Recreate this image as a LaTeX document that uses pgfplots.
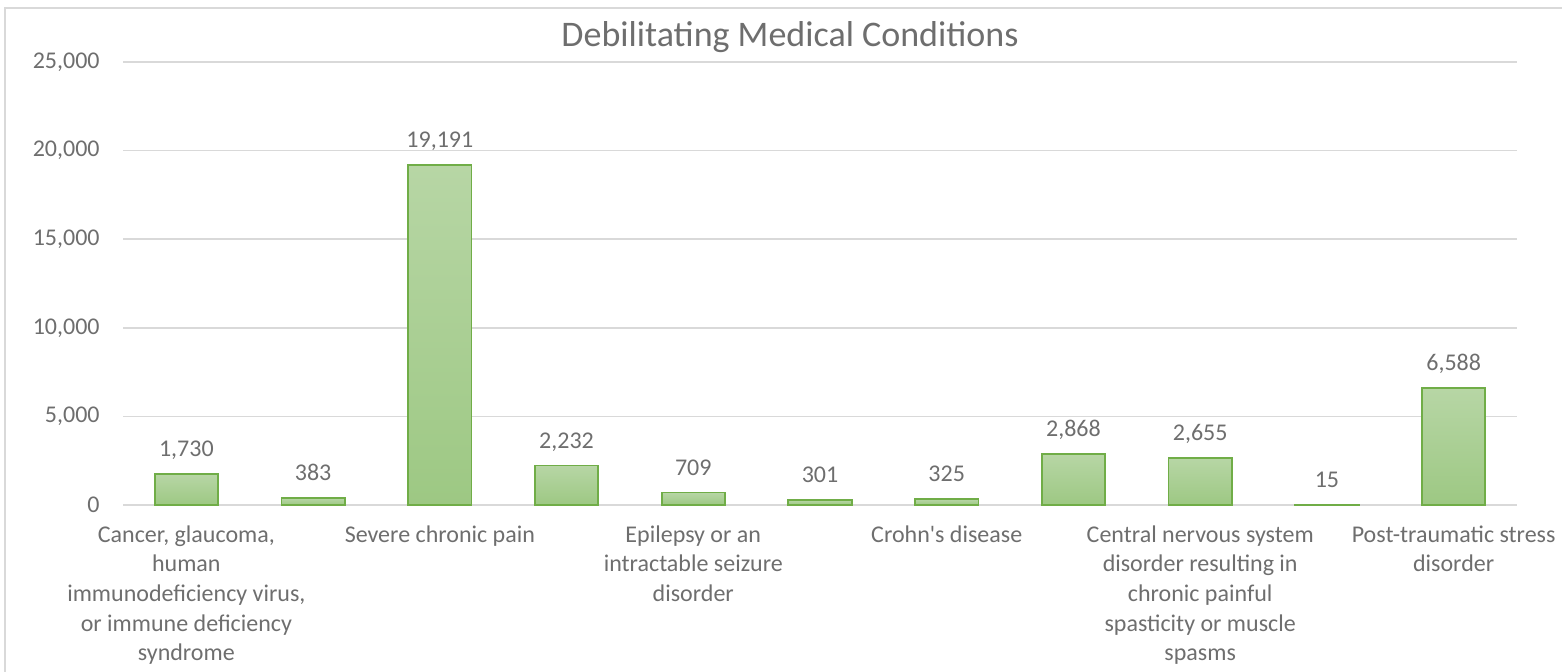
\documentclass[border=0pt]{standalone}
\usepackage{fontspec}
\setmainfont{Carlito}
\usepackage{pgfplots}
\pgfplotsset{compat=1.18}
\definecolor{txt}{HTML}{6E6E6E}
\definecolor{gridc}{HTML}{D9D9D9}
\definecolor{barline}{HTML}{70AD47}
\definecolor{bartop}{HTML}{B7D6A5}
\definecolor{barbot}{HTML}{9DC883}
\pgfplotsset{onebar/.style={draw=barline, line width=0.9pt, top color=bartop, bottom color=barbot, bar shift=0pt}}
\begin{document}
\begin{tikzpicture}
\path[use as bounding box] (0,0) rectangle (781pt,-335.5pt);
\draw[gridc, line width=0.9pt] (2.5pt,-340pt) -- (2.5pt,-4pt) -- (790pt,-4pt);
\node[txt, font=\fontsize{18}{21}\selectfont] at (395pt,-18.5pt) {Debilitating Medical Conditions};
\begin{axis}[
  at={(61.5pt,-252.5pt)}, anchor=south west,
  scale only axis, width=697pt, height=221.5pt,
  xmin=-0.5, xmax=10.5, ymin=0, ymax=25000,
  ytick={0,5000,10000,15000,20000,25000},
  xtick={0,1,2,3,4,5,6,7,8,9,10},
  xticklabels={{Cancer, glaucoma,\\human\\immunodeficiency virus,\\or immune deficiency\\syndrome},{},{Severe chronic pain},{},{Epilepsy or an\\intractable seizure\\disorder},{},{Crohn\textquotesingle s disease},{},{Central nervous system\\disorder resulting in\\chronic painful\\spasticity or muscle\\spasms},{},{Post-traumatic stress\\disorder}},
  axis line style={draw=none},
  major tick length=0pt,
  ymajorgrids, grid style={gridc, line width=0.75pt},
  extra y ticks={0}, extra y tick labels={}, extra y tick style={grid style={gridc,line width=0.9pt}},
  scaled y ticks=false,
  /pgf/number format/.cd, 1000 sep={,}, fixed, precision=0, assume math mode=true,
  /pgfplots/.cd,
  yticklabel style={txt, font=\fontsize{12}{14.5}\selectfont, anchor=east, inner sep=0pt, xshift=-11.5pt},
  xticklabel style={txt, font=\fontsize{12}{14.85}\selectfont, align=center, anchor=north, inner sep=0pt, yshift=-10pt},
  ybar, bar width=0.5,
  nodes near coords,
  every node near coord/.append style={txt, font=\fontsize{12}{14.5}\selectfont, anchor=base, inner sep=0pt, yshift=8.7pt},
  clip=false,
]
\addplot[onebar] coordinates {(0,1730)};
\addplot[onebar] coordinates {(1,383)};
\addplot[onebar] coordinates {(2,19191)};
\addplot[onebar] coordinates {(3,2232)};
\addplot[onebar] coordinates {(4,709)};
\addplot[onebar] coordinates {(5,301)};
\addplot[onebar] coordinates {(6,325)};
\addplot[onebar] coordinates {(7,2868)};
\addplot[onebar] coordinates {(8,2655)};
\addplot[onebar] coordinates {(9,15)};
\addplot[onebar] coordinates {(10,6588)};
\end{axis}
\end{tikzpicture}
\end{document}
